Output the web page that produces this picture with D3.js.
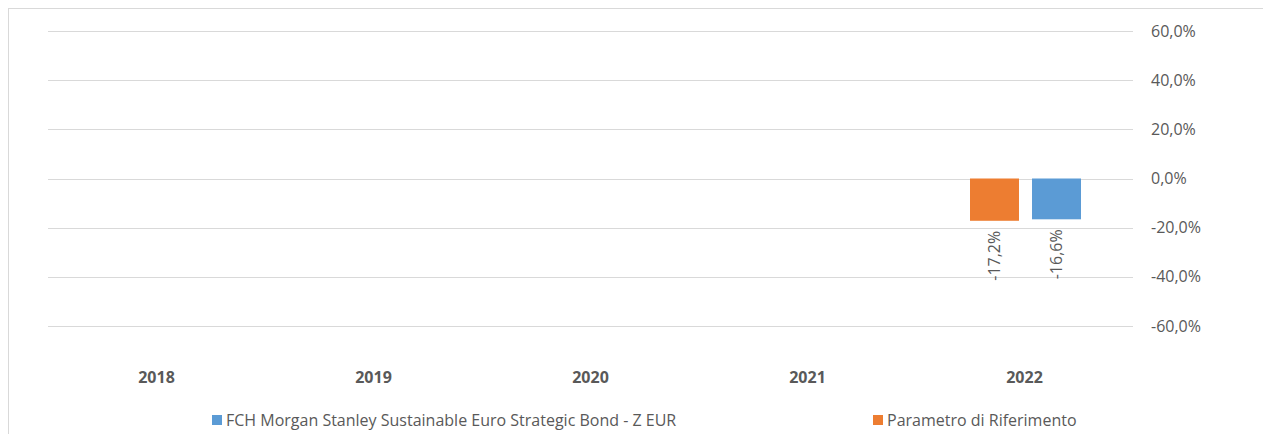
<!DOCTYPE html>
<html lang="it">
<head>
<meta charset="utf-8">
<title>Rendimenti annui</title>
<script src="https://cdn.jsdelivr.net/npm/d3@7"></script>
<style>
  body { margin: 0; background: #fff; }
  text { font-family: "Open Sans", sans-serif; fill: #595959; }
</style>
</head>
<body>
<div id="chart"></div>
<script>
// data
var years = ["2018", "2019", "2020", "2021", "2022"];
var seriesNames = ["Parametro di Riferimento", "FCH Morgan Stanley Sustainable Euro Strategic Bond - Z EUR"];
var benchmark = [null, null, null, null, -17.2];
var fund = [null, null, null, null, -16.6];
var yTicks = [-60, -40, -20, 0, 20, 40, 60];
var legendOrder = ["FCH Morgan Stanley Sustainable Euro Strategic Bond - Z EUR", "Parametro di Riferimento"];

var w = 1263, h = 434;
var colors = { "Parametro di Riferimento": "#ED7D31",
               "FCH Morgan Stanley Sustainable Euro Strategic Bond - Z EUR": "#5B9BD5" };

// it-IT style number: comma decimal, plain hyphen for minus
function pct(v) { return (v < 0 ? "-" : "") + Math.abs(v).toFixed(1).replace(".", ",") + "%"; }

var svg = d3.select("#chart").append("svg")
  .attr("width", w).attr("height", h);

// outer frame (runs off the right and bottom edge)
svg.append("rect")
  .attr("x", 8.5).attr("y", 8.5)
  .attr("width", w + 20).attr("height", h + 20)
  .attr("fill", "none").attr("stroke", "#d9d9d9");

var left = 48, right = 1133;
var y = d3.scaleLinear().domain([-60, 60]).range([326, 31]);
var x0 = d3.scaleBand().domain(years).range([left, right]);
var x1 = d3.scaleBand().domain(seriesNames).range([54, 165]).paddingInner(0.21);

// gridlines
svg.append("g").selectAll("line").data(yTicks).enter().append("line")
  .attr("x1", left).attr("x2", right)
  .attr("y1", function(d) { return Math.round(y(d)) + 0.5; })
  .attr("y2", function(d) { return Math.round(y(d)) + 0.5; })
  .attr("stroke", "#d9d9d9").attr("stroke-width", 1);

// y tick labels on the right
svg.append("g").selectAll("text").data(yTicks).enter().append("text")
  .attr("x", 1151).attr("y", function(d) { return y(d); })
  .attr("dy", "0.35em")
  .style("font-size", "16px")
  .text(pct);

// bars
var rows = years.map(function(yr, i) {
  return { year: yr, values: [
    { name: seriesNames[0], value: benchmark[i] },
    { name: seriesNames[1], value: fund[i] } ] };
});

var groups = svg.append("g").selectAll("g").data(rows).enter().append("g")
  .attr("transform", function(d) { return "translate(" + x0(d.year) + ",0)"; });

var cells = groups.selectAll("g").data(function(d) {
  return d.values.filter(function(v) { return v.value != null; });
}).enter().append("g");

cells.append("rect")
  .attr("x", function(d) { return x1(d.name); })
  .attr("width", x1.bandwidth())
  .attr("y", function(d) { return y(Math.max(0, d.value)); })
  .attr("height", function(d) { return Math.abs(y(d.value) - y(0)); })
  .attr("fill", function(d) { return colors[d.name]; });

cells.append("text")
  .attr("transform", function(d) {
    var cx = x1(d.name) + x1.bandwidth() / 2;
    return "translate(" + cx + "," + (y(d.value) + 10) + ") rotate(-90)";
  })
  .attr("text-anchor", "end")
  .attr("dy", "0.35em")
  .style("font-size", "16px")
  .text(function(d) { return pct(d.value); });

// category labels
svg.append("g").selectAll("text").data(years).enter().append("text")
  .attr("x", function(d) { return x0(d) + x0.bandwidth() / 2; })
  .attr("y", 383)
  .attr("text-anchor", "middle")
  .style("font-size", "16px").style("font-weight", "bold")
  .text(function(d) { return d; });

// legend
var legendX = [212, 873];
var lg = svg.append("g").selectAll("g").data(legendOrder).enter().append("g")
  .attr("transform", function(d, i) { return "translate(" + legendX[i] + ",415)"; });
lg.append("rect").attr("width", 10).attr("height", 10)
  .attr("fill", function(d) { return colors[d]; });
lg.append("text").attr("x", 14).attr("y", 5.5).attr("dy", "0.35em")
  .style("font-size", "16px")
  .text(function(d) { return d; });
</script>
</body>
</html>
